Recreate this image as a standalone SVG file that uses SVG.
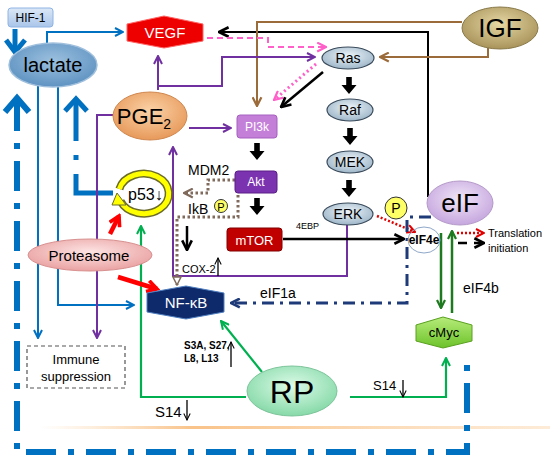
<svg xmlns="http://www.w3.org/2000/svg" width="550" height="466" viewBox="0 0 550 466">
<defs>
<style>
text{font-family:"Liberation Sans",Arial,sans-serif;fill:#000}
.c{stroke-linejoin:miter;fill:none}
.blue{stroke:#0070c0;stroke-width:2}
.pur{stroke:#7030a0;stroke-width:2}
.brn{stroke:#9c6b3a;stroke-width:2}
.grn{stroke:#00b050;stroke-width:2.2}
.dg{stroke:#1e7a1e;stroke-width:2.5}
.blk{stroke:#000;stroke-width:2.5}
.dot{stroke:#7f6a5c;stroke-width:3;stroke-dasharray:2.5 2.5}
.wt{fill:#fff}
.mapk{stroke:#3b4b5b;stroke-width:1.2;fill:url(#gMapk)}
</style>
<radialGradient id="gLac" cx="50%" cy="40%" r="60%"><stop offset="0" stop-color="#9cc0de"/><stop offset="1" stop-color="#5f93c2"/></radialGradient>
<radialGradient id="gPGE" cx="50%" cy="40%" r="60%"><stop offset="0" stop-color="#fbd3a8"/><stop offset="1" stop-color="#e7995a"/></radialGradient>
<radialGradient id="gIGF" cx="50%" cy="40%" r="60%"><stop offset="0" stop-color="#e6d7a4"/><stop offset="1" stop-color="#a8935a"/></radialGradient>
<radialGradient id="gMapk" cx="50%" cy="40%" r="60%"><stop offset="0" stop-color="#eef4f8"/><stop offset="1" stop-color="#9db6c9"/></radialGradient>
<radialGradient id="gEIF" cx="50%" cy="40%" r="60%"><stop offset="0" stop-color="#f1e6f8"/><stop offset="1" stop-color="#c5a6de"/></radialGradient>
<radialGradient id="gPro" cx="50%" cy="40%" r="60%"><stop offset="0" stop-color="#fde4e4"/><stop offset="1" stop-color="#eaa2a2"/></radialGradient>
<radialGradient id="gRP" cx="50%" cy="40%" r="60%"><stop offset="0" stop-color="#dcfbe8"/><stop offset="1" stop-color="#86d9a8"/></radialGradient>
<linearGradient id="gHIF" x1="0" y1="0" x2="0" y2="1"><stop offset="0" stop-color="#dce8f7"/><stop offset="1" stop-color="#a9c5ea"/></linearGradient>
<linearGradient id="gMyc" x1="0" y1="0" x2="0" y2="1"><stop offset="0" stop-color="#b6ec7a"/><stop offset="1" stop-color="#6cc22a"/></linearGradient>
<linearGradient id="gOr" x1="0" y1="0" x2="1" y2="0"><stop offset="0" stop-color="#fbd2a4" stop-opacity="0"/><stop offset="0.3" stop-color="#f9c38a"/><stop offset="1" stop-color="#fbd8b0" stop-opacity="0.5"/></linearGradient>
<marker id="aBlue" viewBox="0 0 10 10" refX="9" refY="5" markerWidth="10" markerHeight="10" markerUnits="userSpaceOnUse" orient="auto"><path d="M1,1 L9,5 L1,9" fill="none" stroke="#0070c0" stroke-width="2"/></marker>
<marker id="aBlack" viewBox="0 0 10 10" refX="9" refY="5" markerWidth="12" markerHeight="12" markerUnits="userSpaceOnUse" orient="auto"><path d="M1,1 L9,5 L1,9" fill="none" stroke="#000" stroke-width="2.2"/></marker>
<marker id="aPur" viewBox="0 0 10 10" refX="9" refY="5" markerWidth="10" markerHeight="10" markerUnits="userSpaceOnUse" orient="auto"><path d="M1,1 L9,5 L1,9" fill="none" stroke="#7030a0" stroke-width="2"/></marker>
<marker id="aBrn" viewBox="0 0 10 10" refX="9" refY="5" markerWidth="11" markerHeight="11" markerUnits="userSpaceOnUse" orient="auto"><path d="M1,1 L9,5 L1,9" fill="none" stroke="#9c6b3a" stroke-width="2"/></marker>
<marker id="aPink" viewBox="0 0 10 10" refX="9" refY="5" markerWidth="11" markerHeight="11" markerUnits="userSpaceOnUse" orient="auto"><path d="M1,1 L9,5 L1,9" fill="none" stroke="#ff5fc8" stroke-width="2"/></marker>
<marker id="aGrn" viewBox="0 0 10 10" refX="9" refY="5" markerWidth="10" markerHeight="10" markerUnits="userSpaceOnUse" orient="auto"><path d="M1,1 L9,5 L1,9" fill="none" stroke="#00b050" stroke-width="2"/></marker>
<marker id="aDg" viewBox="0 0 10 10" refX="9" refY="5" markerWidth="10" markerHeight="10" markerUnits="userSpaceOnUse" orient="auto"><path d="M1,1 L9,5 L1,9" fill="none" stroke="#1e7a1e" stroke-width="2.2"/></marker>
<marker id="aNavy" viewBox="0 0 10 10" refX="9" refY="5" markerWidth="11" markerHeight="11" markerUnits="userSpaceOnUse" orient="auto"><path d="M1,1 L9,5 L1,9" fill="none" stroke="#1f3a78" stroke-width="2.4"/></marker>
<marker id="aRed" viewBox="0 0 10 10" refX="8" refY="5" markerWidth="14" markerHeight="14" markerUnits="userSpaceOnUse" orient="auto"><path d="M1,1 L8,5 L1,9" fill="none" stroke="#ff0000" stroke-width="2.6"/></marker>
<marker id="aRedS" viewBox="0 0 10 10" refX="9" refY="5" markerWidth="10" markerHeight="10" markerUnits="userSpaceOnUse" orient="auto"><path d="M1,1 L9,5 L1,9" fill="none" stroke="#e00000" stroke-width="2"/></marker>
<marker id="aDot" viewBox="0 0 10 10" refX="9" refY="5" markerWidth="11" markerHeight="11" markerUnits="userSpaceOnUse" orient="auto"><path d="M1,1 L9,5 L1,9" fill="none" stroke="#7f6a5c" stroke-width="2"/></marker>
<marker id="aTri" viewBox="0 0 10 10" refX="9" refY="5" markerWidth="10" markerHeight="10" markerUnits="userSpaceOnUse" orient="auto"><path d="M1,1 L9,5 L1,9 Z" fill="#fff" stroke="#7f6a5c" stroke-width="1.5"/></marker>
<marker id="aThin" viewBox="0 0 10 10" refX="9" refY="5" markerWidth="8" markerHeight="8" markerUnits="userSpaceOnUse" orient="auto"><path d="M1,1 L9,5 L1,9" fill="none" stroke="#000" stroke-width="1.3"/></marker>
<path id="blkArrow" d="M-2.8,0 H2.8 V8 H7.5 L0,17 L-7.5,8 H-2.8 Z" fill="#000"/>
</defs>
<rect width="550" height="466" fill="#fff"/>
<rect x="40" y="426" width="510" height="3" fill="url(#gOr)"/>

<g id="connectors">
<path class="c" d="M17,101 V452 H467 V353" stroke="#0070c0" stroke-width="6" stroke-dasharray="30 12 6 12"/>
<polyline class="c" points="5,112 17,98 29,112" stroke="#0070c0" stroke-width="6"/>
<path class="c" d="M76,101 V193 H113" stroke="#0070c0" stroke-width="5" stroke-dasharray="40 14 5 14 80"/>
<polyline class="c" points="65,111 76,99 87,111" stroke="#0070c0" stroke-width="5"/>
<path class="c" d="M15,29 V51" stroke="#0070c0" stroke-width="5"/>
<polyline class="c" points="6,40 15,52 25,40" stroke="#0070c0" stroke-width="5"/>
<path class="c blue" d="M47,44 V32 H123" marker-end="url(#aBlue)"/>
<path class="c blue" d="M38,86 V338" marker-end="url(#aBlue)"/>
<path class="c blue" d="M58,86 V305 H134" marker-end="url(#aBlue)"/>
<path class="c" d="M428,197 V32 H219" stroke="#000" stroke-width="2" marker-end="url(#aBlack)"/>
<path class="c brn" d="M462,22 H257 V106" marker-end="url(#aBrn)"/>
<path class="c brn" d="M488,48 V57 H380" marker-end="url(#aBrn)"/>
<path class="c" d="M207,38 H268 V47 H326" stroke="#ff5fc8" stroke-width="2" stroke-dasharray="6 4" marker-end="url(#aPink)"/>
<path class="c" d="M316,64 L274,100" stroke="#ff5fc8" stroke-width="3" stroke-dasharray="2 3" marker-end="url(#aPink)"/>
<path class="c pur" d="M158,90 V56" marker-end="url(#aPur)"/>
<path class="c pur" d="M158,86 H222 V57 H315" marker-end="url(#aPur)"/>
<path class="c pur" d="M189,128 H231" marker-end="url(#aPur)"/>
<path class="c pur" d="M113,115 H97 V338" marker-end="url(#aPur)"/>
<path class="c pur" d="M347,225 V276 H173 V147" marker-end="url(#aPur)"/>
<path class="c blk" d="M323,72 L281,107" marker-end="url(#aBlack)"/>
<use href="#blkArrow" x="349" y="77"/>
<use href="#blkArrow" x="350" y="128"/>
<use href="#blkArrow" x="349" y="180"/>
<use href="#blkArrow" x="257" y="143"/>
<use href="#blkArrow" x="257" y="198"/>
<path class="c blk" d="M283,239 H404" marker-end="url(#aBlack)"/>
<path class="c" d="M377,216 L415,232" stroke="#e00000" stroke-width="2.5" stroke-dasharray="2 2" marker-end="url(#aRedS)"/>
<path class="c" d="M431,217 H407 V303 H231" stroke="#1f3a78" stroke-width="3" stroke-dasharray="12 6 3 6" marker-end="url(#aNavy)"/>
<path class="c dg" d="M441,233 V308" marker-end="url(#aDg)"/>
<path class="c dg" d="M452,313 V231" marker-end="url(#aDg)"/>
<path class="c" d="M457,233 H484" stroke="#e00000" stroke-width="2.5" stroke-dasharray="2 2" marker-end="url(#aRedS)"/>
<path class="c" d="M458,243 H484" stroke="#000" stroke-width="2.5" stroke-dasharray="9 7" marker-end="url(#aBlack)"/>
<path class="c grn" d="M246,397 H141 V226" marker-end="url(#aGrn)"/>
<path class="c grn" d="M262,372 L221,321" marker-end="url(#aGrn)"/>
<path class="c grn" d="M350,397 H446 V358" marker-end="url(#aGrn)"/>
<path class="c" d="M110,234 L119,216" stroke="#ff0000" stroke-width="4.5" marker-end="url(#aRed)"/>
<path class="c" d="M118,277 L157,289" stroke="#ff0000" stroke-width="4.5" marker-end="url(#aRed)"/>
<path class="c dot" d="M235,180 H208 V193 H184" marker-end="url(#aDot)"/>
<path class="c dot" d="M238,195 V217 H177 V285" marker-end="url(#aTri)"/>
<path class="c" d="M187,226 V250" stroke="#000" stroke-width="2.5" marker-end="url(#aBlack)"/>
<path class="c" d="M218,276 V258" stroke="#000" stroke-width="1.3" marker-end="url(#aThin)"/>
<path class="c" d="M231,367 V342" stroke="#000" stroke-width="1.3" marker-end="url(#aThin)"/>
<path class="c" d="M403,380 V397" stroke="#000" stroke-width="1.3" marker-end="url(#aThin)"/>
<path class="c" d="M187,400 V420" stroke="#000" stroke-width="1.3" marker-end="url(#aThin)"/>
</g>

<g id="hif1">
<rect x="8" y="8" width="45" height="19" rx="3" fill="url(#gHIF)" stroke="#8eb4e3"/>
<text x="30.5" y="22" font-size="12" text-anchor="middle">HIF-1</text>
</g>
<g id="lactate">
<ellipse cx="53" cy="65" rx="44" ry="22" fill="url(#gLac)" stroke="#9fbfdc" stroke-width="1.5"/>
<text x="53" y="72" font-size="20" text-anchor="middle">lactate</text>
</g>
<g id="vegf">
<polygon points="127,24 164,16 203,24 203,41 164,48 127,41" fill="#ee0000" stroke="#ff6666" stroke-width="1"/>
<text x="165" y="38" font-size="15" text-anchor="middle" class="wt">VEGF</text>
</g>
<g id="igf">
<ellipse cx="500" cy="28" rx="38" ry="21" fill="url(#gIGF)" stroke="#8a7a4a" stroke-width="1"/>
<text x="500" y="37" font-size="26" text-anchor="middle">IGF</text>
</g>
<g id="pge2">
<ellipse cx="150" cy="116" rx="37" ry="24" fill="url(#gPGE)" stroke="#d08850" stroke-width="1"/>
<text x="144" y="124" font-size="22" text-anchor="middle">PGE<tspan font-size="14" dy="5">2</tspan></text>
</g>
<g id="pi3k">
<rect x="237" y="115" width="40" height="23" rx="3" fill="#c47fd8" stroke="#a560c0"/>
<text x="257" y="131" font-size="12" text-anchor="middle" class="wt">PI3k</text>
</g>
<g id="akt">
<rect x="235" y="171" width="42" height="22" rx="3" fill="#7b33b0" stroke="#5a1f88"/>
<text x="256" y="186" font-size="12" text-anchor="middle" class="wt">Akt</text>
</g>
<g id="mtor">
<rect x="227" y="228" width="55" height="23" rx="3" fill="#c00000" stroke="#800000"/>
<text x="254.5" y="244.5" font-size="13" text-anchor="middle" class="wt">mTOR</text>
</g>
<g id="ras">
<ellipse cx="348" cy="58" rx="26" ry="11" class="mapk"/>
<text x="348" y="63" font-size="14" text-anchor="middle">Ras</text>
</g>
<g id="raf">
<ellipse cx="350" cy="110" rx="23" ry="11" class="mapk"/>
<text x="350" y="115" font-size="14" text-anchor="middle">Raf</text>
</g>
<g id="mek">
<ellipse cx="350" cy="162" rx="23" ry="11" class="mapk"/>
<text x="350" y="167" font-size="14" text-anchor="middle">MEK</text>
</g>
<g id="erk">
<ellipse cx="348" cy="214" rx="25" ry="11" class="mapk"/>
<text x="348" y="219" font-size="14" text-anchor="middle">ERK</text>
</g>
<g id="p-erk">
<circle cx="396" cy="208" r="11" fill="#ffff66" stroke="#333" stroke-width="1"/>
<text x="396" y="213" font-size="14" text-anchor="middle">P</text>
</g>
<g id="eif4e">
<ellipse cx="424" cy="240" rx="16" ry="13" fill="none" stroke="#8fa8c8" stroke-width="1"/>
<text x="424" y="244" font-size="12" font-weight="bold" text-anchor="middle">eIF4e</text>
</g>
<g id="eif">
<ellipse cx="460" cy="203" rx="33" ry="22" fill="url(#gEIF)" stroke="#b49ac8" stroke-width="1"/>
<text x="460" y="212" font-size="26" text-anchor="middle">eIF</text>
</g>
<g id="translation">
<text x="488" y="237" font-size="11">Translation</text>
<text x="488" y="252" font-size="11">initiation</text>
</g>
<g id="cmyc">
<polygon points="416,325 443,317 472,325 472,341 443,348 416,341" fill="url(#gMyc)" stroke="#5aa020" stroke-width="1"/>
<text x="444" y="337" font-size="13" text-anchor="middle">cMyc</text>
</g>
<g id="p53">
<path d="M119.4,189 A25,20 0 1 1 120.5,201" fill="none" stroke="#6b6b2a" stroke-width="8"/>
<path d="M119.4,189 A25,20 0 1 1 120.5,201" fill="none" stroke="#ffff00" stroke-width="5"/>
<polygon points="117,193 112,205 126,205" fill="#ffff00" stroke="#6b6b2a" stroke-width="1"/>
<text x="128" y="200" font-size="16">p53↓</text>
</g>
<g id="mdm2-ikb">
<text x="188" y="175" font-size="14">MDM2</text>
<text x="188" y="214" font-size="14">IkB</text>
<circle cx="221" cy="206" r="6.5" fill="#ffff66" stroke="#333" stroke-width="1"/>
<text x="221" y="210.5" font-size="11" text-anchor="middle">P</text>
<text x="182" y="273" font-size="11">COX-2</text>
</g>
<g id="proteasome">
<ellipse cx="90" cy="255" rx="62" ry="16" fill="url(#gPro)" stroke="#d89090" stroke-width="1"/>
<text x="89" y="261" font-size="15" text-anchor="middle">Proteasome</text>
</g>
<g id="nfkb">
<polygon points="147,293 186,286 224,293 224,312 186,319 147,312" fill="#0f2a6b" stroke="#4f7fc0" stroke-width="1"/>
<text x="186" y="308" font-size="15" text-anchor="middle" class="wt">NF-κB</text>
</g>
<g id="immune">
<rect x="27" y="346" width="98" height="42" fill="#fff" stroke="#555" stroke-width="1.2" stroke-dasharray="4 3"/>
<text x="76" y="364" font-size="13" text-anchor="middle">Immune</text>
<text x="76" y="381" font-size="13" text-anchor="middle">suppression</text>
</g>
<g id="rp">
<ellipse cx="292" cy="391" rx="45" ry="25" fill="url(#gRP)" stroke="#7cc49a" stroke-width="1"/>
<text x="292" y="403" font-size="32" text-anchor="middle">RP</text>
</g>
<g id="labels">
<text x="296" y="229" font-size="9">4EBP</text>
<text x="260" y="298" font-size="14">eIF1a</text>
<text x="463" y="293" font-size="14">eIF4b</text>
<text x="373" y="390" font-size="13">S14</text>
<text x="155" y="417" font-size="15">S14</text>
<text x="184" y="349" font-size="10" font-weight="bold">S3A, S27,</text>
<text x="184" y="362" font-size="10" font-weight="bold">L8, L13</text>
</g>
</svg>
